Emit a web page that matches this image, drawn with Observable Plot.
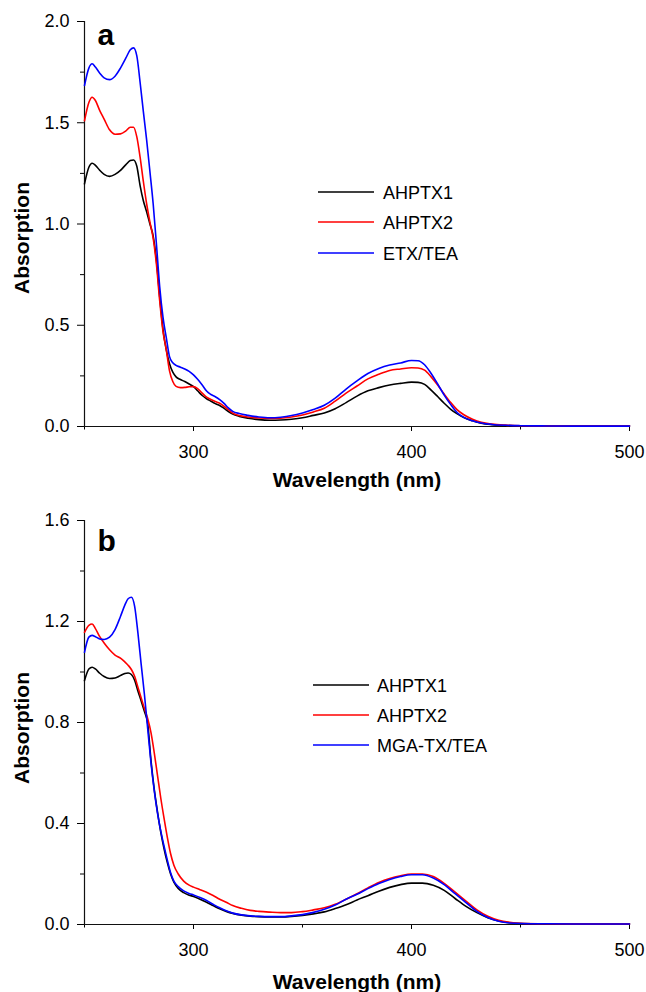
<!DOCTYPE html>
<html><head><meta charset="utf-8">
<script src="https://cdn.jsdelivr.net/npm/d3@7"></script>
<script src="https://cdn.jsdelivr.net/npm/@observablehq/plot@0.6"></script>
<style>
html,body{margin:0;padding:0;background:#fff;}
#wrap{position:relative;width:646px;height:992px;font-family:"Liberation Sans",Arial,sans-serif;}
#wrap > svg{display:block}
#legend{position:absolute;left:0;top:0;pointer-events:none;}
</style></head><body><div id="wrap"></div>
<script>
// ---- Panel a data ----
const wlA = [250, 252, 253.5, 255, 257, 259, 261.5, 264, 266.5, 269,
  271, 272.5, 274, 275.5, 277, 278.5, 280, 281.5, 283, 284.5,
  286, 287.5, 289, 290.5, 292, 294, 296, 298, 300, 302,
  304, 306, 308, 310, 312, 314, 316, 318, 321, 325,
  330, 335, 340, 345, 350, 355, 360, 365, 370, 375,
  380, 385, 390, 395, 400, 403, 406, 409, 412, 415,
  418, 421, 424, 428, 432, 437, 443, 450, 460, 475,
  500];
const ahptx1A = [1.198, 1.28, 1.30, 1.29, 1.265, 1.245, 1.235, 1.245, 1.265, 1.293,
  1.313, 1.316, 1.285, 1.19, 1.115, 1.06, 1.0, 0.94, 0.82, 0.64,
  0.48, 0.38, 0.31, 0.268, 0.245, 0.232, 0.222, 0.21, 0.197, 0.175,
  0.153, 0.137, 0.125, 0.113, 0.104, 0.09, 0.074, 0.061, 0.05, 0.041,
  0.034, 0.031, 0.032, 0.036, 0.043, 0.055, 0.067, 0.088, 0.118, 0.15,
  0.176, 0.192, 0.205, 0.213, 0.219, 0.218, 0.208, 0.18, 0.148, 0.115,
  0.085, 0.062, 0.044, 0.028, 0.016, 0.009, 0.005, 0.003, 0.003, 0.002,
  0.002];
const ahptx2A = [1.51, 1.6, 1.626, 1.61, 1.56, 1.518, 1.465, 1.443, 1.445, 1.46,
  1.478, 1.478, 1.43, 1.33, 1.21, 1.10, 1.01, 0.93, 0.8, 0.62,
  0.47, 0.38, 0.275, 0.222, 0.198, 0.192, 0.193, 0.196, 0.197, 0.186,
  0.165, 0.145, 0.133, 0.123, 0.115, 0.1, 0.083, 0.066, 0.054, 0.047,
  0.042, 0.04, 0.041, 0.047, 0.057, 0.072, 0.09, 0.125, 0.165, 0.2,
  0.235, 0.258, 0.277, 0.284, 0.29, 0.289, 0.278, 0.245, 0.205, 0.16,
  0.118, 0.082, 0.058, 0.036, 0.021, 0.012, 0.007, 0.004, 0.003, 0.002,
  0.002];
const etxTea = [1.684, 1.77, 1.791, 1.775, 1.745, 1.722, 1.713, 1.73, 1.77, 1.82,
  1.86, 1.87, 1.83, 1.70, 1.555, 1.415, 1.26, 1.10, 0.9, 0.69,
  0.54, 0.44, 0.345, 0.315, 0.302, 0.293, 0.284, 0.272, 0.255, 0.232,
  0.205, 0.175, 0.158, 0.147, 0.133, 0.114, 0.092, 0.075, 0.064, 0.055,
  0.047, 0.043, 0.046, 0.054, 0.067, 0.084, 0.105, 0.14, 0.185, 0.225,
  0.262, 0.287, 0.304, 0.314, 0.326, 0.325, 0.305, 0.262, 0.21, 0.155,
  0.108, 0.068, 0.045, 0.028, 0.017, 0.01, 0.006, 0.004, 0.003, 0.002,
  0.002];

// ---- Panel b data ----
const wlB = [250, 252, 253.5, 255, 257, 259, 261.5, 264, 266.5, 268.5,
  270, 271.5, 273, 274.5, 276, 277.5, 279, 280.5, 282, 283.5,
  285, 286.5, 288, 289.5, 291, 293, 295.5, 298, 300, 303,
  306, 309, 312, 315, 318, 322, 326, 330, 335, 340,
  345, 350, 355, 360, 365, 370, 375, 380, 385, 390,
  395, 400, 405, 410, 415, 420, 425, 430, 435, 440,
  445, 450, 460, 475, 500];
const ahptx1B = [0.966, 1.012, 1.019, 1.012, 0.995, 0.982, 0.974, 0.976, 0.986, 0.994,
  0.996, 0.99, 0.968, 0.925, 0.885, 0.843, 0.795, 0.65, 0.535, 0.445,
  0.365, 0.3, 0.245, 0.2, 0.168, 0.143, 0.126, 0.116, 0.111, 0.1,
  0.088, 0.075, 0.062, 0.052, 0.044, 0.037, 0.033, 0.031, 0.03, 0.03,
  0.032, 0.036, 0.042, 0.05, 0.063, 0.078, 0.097, 0.114, 0.132, 0.147,
  0.158, 0.164, 0.164, 0.155, 0.135, 0.103, 0.072, 0.047, 0.027, 0.014,
  0.007, 0.004, 0.003, 0.002, 0.002];
const ahptx2B = [1.157, 1.185, 1.19, 1.172, 1.14, 1.115, 1.088, 1.067, 1.055, 1.04,
  1.027, 1.01, 0.983, 0.94, 0.897, 0.855, 0.815, 0.76, 0.68, 0.59,
  0.5, 0.42, 0.345, 0.28, 0.235, 0.2, 0.172, 0.156, 0.148, 0.138,
  0.128, 0.115, 0.1, 0.088, 0.075, 0.064, 0.056, 0.052, 0.049, 0.047,
  0.047, 0.051, 0.058, 0.066, 0.08, 0.1, 0.122, 0.145, 0.166, 0.182,
  0.193, 0.2, 0.2, 0.19, 0.163, 0.128, 0.093, 0.058, 0.033, 0.017,
  0.009, 0.005, 0.003, 0.002, 0.002];
const mgaTxTea = [1.078, 1.138, 1.145, 1.14, 1.131, 1.129, 1.138, 1.168, 1.22, 1.265,
  1.29, 1.296, 1.26, 1.155, 1.03, 0.91, 0.775, 0.64, 0.53, 0.44,
  0.37, 0.31, 0.255, 0.205, 0.172, 0.15, 0.133, 0.123, 0.117, 0.107,
  0.095, 0.08, 0.066, 0.054, 0.045, 0.038, 0.034, 0.032, 0.031, 0.031,
  0.034, 0.039, 0.048, 0.06, 0.077, 0.1, 0.12, 0.142, 0.162, 0.178,
  0.19, 0.197, 0.197, 0.184, 0.158, 0.122, 0.087, 0.052, 0.028, 0.013,
  0.006, 0.004, 0.003, 0.002, 0.002];

// ---- names, colours, ticks ----
const seriesA = ["AHPTX1", "AHPTX2", "ETX/TEA"];
const seriesB = ["AHPTX1", "AHPTX2", "MGA-TX/TEA"];
const colors = ["#000000", "#ff0000", "#0000ff"];
const xTicks = [300, 400, 500];
const xMinor = [250, 350, 450];
const yTicksA = [0, 0.5, 1.0, 1.5, 2.0];
const yMinorA = [0.25, 0.75, 1.25, 1.75];
const yTicksB = [0, 0.4, 0.8, 1.2, 1.6];
const yMinorB = [0.2, 0.6, 1.0, 1.4];
const xTitle = "Wavelength (nm)";
const yTitle = "Absorption";

const FONT = '"Liberation Sans", Arial, Helvetica, sans-serif';

function table(wl, vals, names) {
  return names.flatMap((n, k) => wl.map((w, i) => ({wl: w, a: vals[k][i], s: n})));
}

function panel(o) {
  return Plot.plot({
    width: 646, height: 496,
    marginLeft: 84, marginRight: 17, marginTop: o.marginTop, marginBottom: o.marginBottom,
    style: {fontFamily: FONT, fontSize: "18px", background: "white", overflow: "visible", color: "#000"},
    x: {domain: [250, 500]},
    y: {domain: o.yDomain},
    color: {domain: o.names, range: colors},
    marks: [
      Plot.axisX({ticks: xTicks, tickSize: 5, tickPadding: 14, tickFormat: d => String(d), label: null, fontSize: 18}),
      Plot.axisX({ticks: xMinor, tickSize: 3.5, tickFormat: () => "", label: null}),
      Plot.axisY({ticks: o.yTicks, tickSize: 7, tickPadding: 8, tickFormat: d3.format(".1f"), label: null, fontSize: 18}),
      Plot.axisY({ticks: o.yMinor, tickSize: 4, tickFormat: () => "", label: null}),
      Plot.ruleX([250], {stroke: "#111", strokeWidth: 1.2}),
      Plot.ruleY([0], {stroke: "#111", strokeWidth: 1.2}),
      Plot.line(o.data, {x: "wl", y: "a", stroke: "s", z: "s", curve: "monotone-x", strokeWidth: 1.6}),
      Plot.text([o.letter], {text: d => d, frameAnchor: "top-left", dx: 13, dy: o.letterDy, textAnchor: "start", lineAnchor: "bottom", fontSize: 30, fontWeight: "bold"}),
      Plot.text([xTitle], {text: d => d, frameAnchor: "bottom", dy: o.xTitleDy, textAnchor: "middle", lineAnchor: "bottom", fontSize: 21, fontWeight: "bold"}),
      Plot.text([yTitle], {text: d => d, frameAnchor: "left", dx: -55.7, dy: o.yTitleDy, rotate: -90, textAnchor: "middle", lineAnchor: "bottom", fontSize: 21, fontWeight: "bold"})
    ]
  });
}

const wrap = document.getElementById("wrap");
wrap.appendChild(panel({
  data: table(wlA, [ahptx1A, ahptx2A, etxTea], seriesA), names: seriesA,
  yDomain: [0, 2.0], yTicks: yTicksA, yMinor: yMinorA, letter: "a",
  marginTop: 21, marginBottom: 70, letterDy: 23.3, xTitleDy: 60.7, yTitleDy: 14
}));
wrap.appendChild(panel({
  data: table(wlB, [ahptx1B, ahptx2B, mgaTxTea], seriesB), names: seriesB,
  yDomain: [0, 1.6], yTicks: yTicksB, yMinor: yMinorB, letter: "b",
  marginTop: 24, marginBottom: 68, letterDy: 30, xTitleDy: 64.3, yTitleDy: 5.5
}));

// ---- legends (overlay) ----
const legends = [
  {names: seriesA, x1: 318, x2: 374, tx: 383, ys: [192, 222, 253]},
  {names: seriesB, x1: 313, x2: 369, tx: 377, ys: [685, 715, 745]}
];
const leg = d3.select(wrap).append("svg").attr("id", "legend")
  .attr("width", 646).attr("height", 992)
  .style("font-family", FONT).style("font-size", "18px");
legends.forEach(L => {
  L.names.forEach((n, i) => {
    leg.append("line").attr("x1", L.x1).attr("x2", L.x2).attr("y1", L.ys[i]).attr("y2", L.ys[i])
      .attr("stroke", colors[i]).attr("stroke-width", 1.6);
    leg.append("text").attr("x", L.tx).attr("y", L.ys[i] + 6.5).attr("fill", "#000").text(n);
  });
});
</script></body></html>
